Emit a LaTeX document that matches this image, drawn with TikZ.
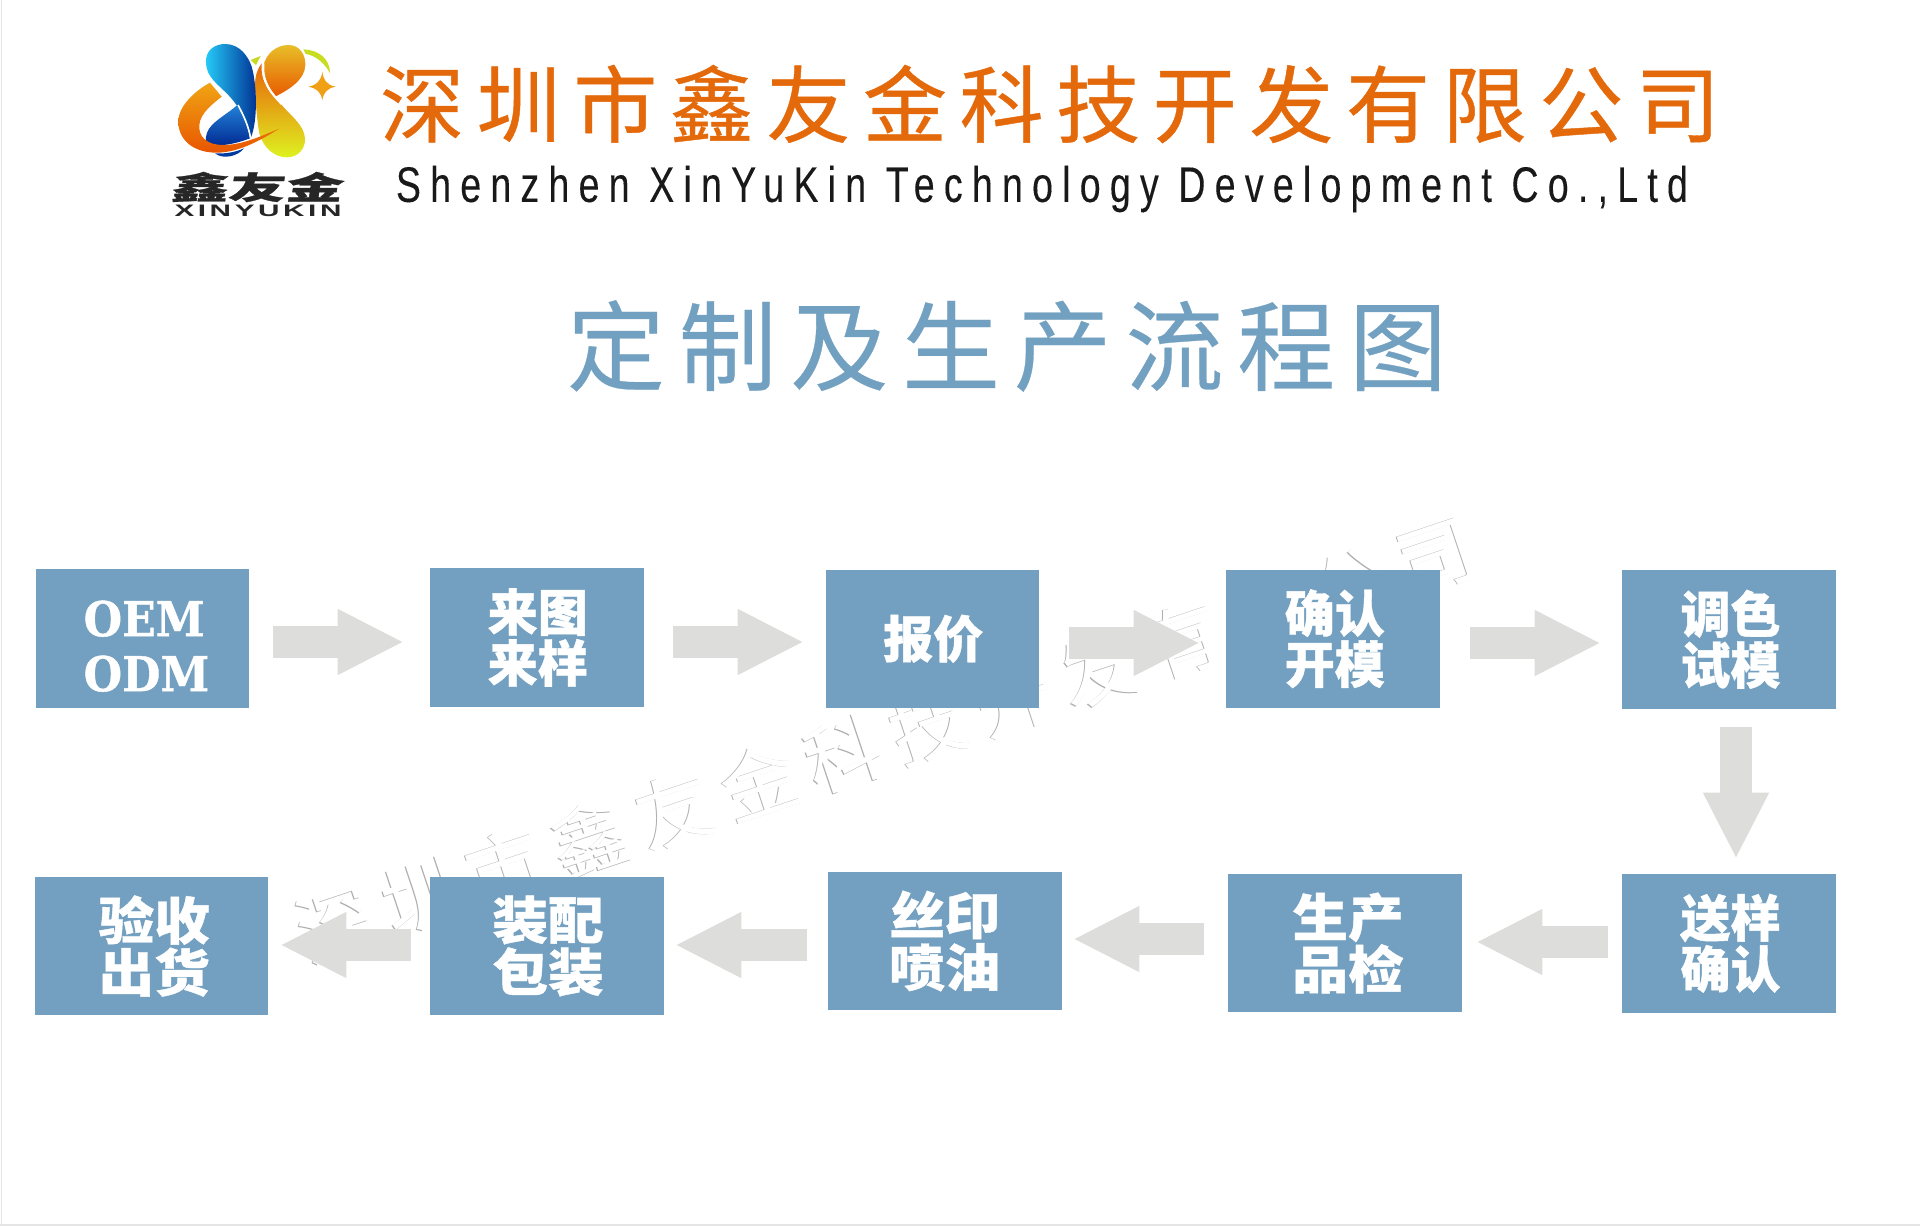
\documentclass[tikz,border=0pt]{standalone}
\usepackage{fontspec}
\usetikzlibrary{arrows.meta}
\newfontfamily\cjk{Noto Sans CJK SC}[BoldFeatures={FakeBold=0.8}]
\newfontfamily\cjkwide{Noto Sans CJK SC}[FakeStretch=1.09,BoldFeatures={FakeStretch=1.09,FakeBold=0.8}]
\newfontfamily\cjkspa{Noto Sans CJK SC}[LetterSpace=15,FakeBold=0.5]
\newfontfamily\cjkspb{Noto Sans CJK SC}[LetterSpace=14,FakeBold=0.3]
\newfontfamily\cjkspw{Noto Sans CJK SC}[LetterSpace=17.5]
\newfontfamily\subf{Liberation Sans}[FakeStretch=0.75,LetterSpace=18.5,FakeBold=0.15]
\newfontfamily\wordf{Liberation Sans}[LetterSpace=12]
\newfontfamily\slabface{DejaVu Serif Bold}[FakeStretch=0.92,FakeBold=0.8]
\definecolor{boxblue}{RGB}{115,160,192}
\definecolor{arrowgray}{RGB}{221,221,219}
\definecolor{brandorange}{RGB}{228,105,10}
\definecolor{titleblue}{RGB}{114,160,192}
\tikzset{
  x=0.5pt,y=-0.5pt,
  stepbox/.style={fill=boxblue,text=white,inner sep=0pt,align=center,font=\cjk\bfseries},
  rowa/.style={font=\cjk\bfseries\fontsize{25pt}{25.5pt}\selectfont},
  rowb/.style={font=\cjkwide\bfseries\fontsize{25.5pt}{26pt}\selectfont},
  rowo/.style={font=\slabface\fontsize{24pt}{27.5pt}\selectfont},
  blockarr/.style={arrowgray,line width=16pt,-{Triangle[length=33.2pt,width=30.5pt,fill=arrowgray]}},
  wmark/.style={rotate=18.5,font=\cjkspw\fontsize{38pt}{38pt}\selectfont},
}
\begin{document}
\begin{tikzpicture}
\lineskiplimit=-20pt\relax
\useasboundingbox (0,0) rectangle (1920,1226);
\fill[white] (0,0) rectangle (1920,1226);
\fill[black!10] (0.8,0) rectangle (2.3,1226);
\fill[black!10] (0,1224.3) rectangle (1920,1226);

% watermark: only the edges of its letters show
\node[wmark,text=black!32] (wm) at (885,740.5) {深圳市鑫友金科技开发有限公司};
\node[wmark,text=white] (wmcover) at (886.1,740.15) {深圳市鑫友金科技开发有限公司};

% logo
\begin{scope}[shift={(160,30)},scale=0.33333]
  \fill[color={rgb,255:red,200;green,215;blue,32}] (272,90) -- (302,78) -- (288,105) -- cycle;
  \fill[color={rgb,255:red,200;green,220;blue,32}] (430,58) .. controls (475,60) and (510,85) .. (510,130) .. controls (495,100) and (465,75) .. (437,72) -- cycle;
  \fill[color={rgb,255:red,240;green,160;blue,20}] (487,125) .. controls (490,150) and (500,165) .. (527,170) .. controls (500,175) and (490,190) .. (487,210) .. controls (484,190) and (472,175) .. (445,170) .. controls (472,165) and (484,150) .. (487,125) -- cycle;
  \shade[top color={rgb,255:red,232;green,190;blue,40},bottom color={rgb,255:red,232;green,90;blue,0}]
    (310,108) .. controls (318,70) and (350,45) .. (385,45) .. controls (420,45) and (437,75) .. (436,105) .. controls (435,150) and (385,180) .. (345,200) .. controls (325,170) and (310,140) .. (310,108) -- cycle;
  \shade[top color={rgb,255:red,232;green,100;blue,10},bottom color={rgb,255:red,222;green,242;blue,32}]
    (305,100) .. controls (283,130) and (284,160) .. (286,190) .. controls (288,240) and (294,290) .. (298,310) .. controls (310,355) and (345,382) .. (380,382) .. controls (415,382) and (437,355) .. (435,325) .. controls (432,285) and (395,260) .. (365,225) .. controls (335,190) and (300,160) .. (305,100) -- cycle;
  \draw[white,line width=1.1pt] (310,100) .. controls (305,160) and (335,190) .. (365,222);
  \shade[top color={rgb,255:red,35;green,130;blue,215},bottom color={rgb,255:red,0;green,40;blue,145}]
    (232,225) .. controls (205,250) and (165,270) .. (148,295) .. controls (135,315) and (135,335) .. (140,345) .. controls (190,350) and (230,340) .. (270,325) .. controls (265,290) and (245,250) .. (232,225) -- cycle;
  \fill[color={rgb,255:red,0;green,60;blue,160}] (165,370) .. controls (195,372) and (225,367) .. (252,355) .. controls (235,378) and (190,390) .. (165,370) -- cycle;
  \shade[shading angle=135,left color={rgb,255:red,37;green,205;blue,250},right color={rgb,255:red,0;green,45;blue,145}]
    (138,100) .. controls (135,60) and (165,42) .. (195,42) .. controls (240,42) and (265,80) .. (275,110) .. controls (290,160) and (295,270) .. (272,325) .. controls (265,280) and (240,230) .. (200,190) .. controls (170,160) and (140,140) .. (138,100) -- cycle;
  \draw[white,line width=0.8pt] (234,225) .. controls (250,255) and (265,285) .. (272,325);
  \shade[top color={rgb,255:red,240;green,165;blue,20},bottom color={rgb,255:red,232;green,85;blue,0}]
    (150,158) .. controls (110,180) and (55,225) .. (55,275) .. controls (55,330) and (100,368) .. (170,368) .. controls (240,368) and (310,325) .. (358,296) .. controls (310,315) and (250,345) .. (190,345) .. controls (140,345) and (115,320) .. (118,285) .. controls (120,250) and (160,220) .. (185,200) -- cycle;
\end{scope}
\node[transform shape,xscale=1.55,yscale=0.85,xslant=0.08,inner sep=0pt,text=black!85,font=\cjk\bfseries\fontsize{18.5pt}{18.5pt}\selectfont] (logocn) at (258,187) {鑫友金};
\node[transform shape,xscale=1.79,inner sep=0pt,text=black!85,font=\wordf\bfseries\fontsize{8.3pt}{8.3pt}\selectfont] (logoen) at (258,211) {XINYUKIN};

% headings
\node[inner sep=0pt,text=brandorange,font=\cjkspa\fontsize{42pt}{42pt}\selectfont] (company) at (1050,104) {深圳市鑫友金科技开发有限公司};
\node[inner sep=0pt,text=black!90,font=\subf\fontsize{25pt}{25pt}\selectfont] (companyen) at (1042,189) {Shenzhen XinYuKin Technology Development Co.,Ltd};
\node[inner sep=0pt,text=titleblue,font=\cjkspb\fontsize{49pt}{49pt}\selectfont] (title) at (1007,346) {定制及生产流程图};

% step boxes
\node[stepbox,rowo,minimum width=106.5pt,minimum height=69.5pt,align=left] (n1) at (142.5,638.5) {\rule{0pt}{25.5pt}\hspace*{4pt}OEM\\\hspace*{4pt}ODM};
\node[stepbox,rowa,minimum width=106.75pt,minimum height=69.5pt] (n2) at (536.75,637.5) {\hspace*{1pt}来图\\\hspace*{1pt}来样};
\node[stepbox,rowa,minimum width=106.75pt,minimum height=69.25pt] (n3) at (932.25,638.75) {\hspace*{1pt}报价};
\node[stepbox,rowa,minimum width=106.75pt,minimum height=69.25pt] (n4) at (1332.75,638.75) {\hspace*{2pt}确认\\\hspace*{2pt}开模};
\node[stepbox,rowa,minimum width=107pt,minimum height=69.75pt] (n5) at (1728.5,639.25) {\hspace*{2pt}调色\\\hspace*{2pt}试模};
\node[stepbox,rowa,minimum width=107pt,minimum height=69.25pt] (n6) at (1728.5,943.25) {\hspace*{2pt}送样\\\hspace*{2pt}确认};
\node[stepbox,rowb,minimum width=117pt,minimum height=69pt] (n7) at (1345,943) {\hspace*{3pt}生产\\\hspace*{3pt}品检};
\node[stepbox,rowb,minimum width=116.75pt,minimum height=69pt] (n8) at (944.75,941) {丝印\\喷油};
\node[stepbox,rowb,minimum width=117pt,minimum height=69pt] (n9) at (547,946) {\hspace*{1pt}装配\\\hspace*{1pt}包装};
\node[stepbox,rowb,minimum width=116.75pt,minimum height=69pt] (n10) at (151.25,946) {\hspace*{3pt}验收\\\hspace*{3pt}出货};

% connectors
\draw[blockarr,shorten <=12pt,shorten >=12.8pt] ([yshift=-1.75pt]n1.east) -- ([yshift=-2.25pt]n2.west);
\draw[blockarr,shorten <=14.75pt,shorten >=10.55pt] ([yshift=-2.25pt]n2.east) -- ([yshift=-1.625pt]n3.west);
\draw[blockarr,shorten <=15pt,shorten >=12.8pt] ([yshift=-2.125pt]n3.east) -- ([yshift=-2.125pt]n4.west);
\draw[blockarr,shorten <=15pt,shorten >=10.05pt] ([yshift=-2.125pt]n4.east) -- ([yshift=-1.875pt]n5.west);
\draw[blockarr,shorten <=9pt,shorten >=7.3pt] ([xshift=3.75pt]n5.south) -- ([xshift=3.75pt]n6.north);
\draw[blockarr,shorten <=6.75pt,shorten >=6.8pt] ([yshift=0.625pt]n6.west) -- ([yshift=0.5pt]n7.east);
\draw[blockarr,shorten <=12pt,shorten >=5.55pt] ([yshift=2pt]n7.west) -- ([yshift=1pt]n8.east);
\draw[blockarr,shorten <=10.5pt,shorten >=5.3pt] ([yshift=-2pt]n8.west) -- ([yshift=0.5pt]n9.east);
\draw[blockarr,shorten <=9.5pt,shorten >=5.8pt] ([yshift=0.5pt]n9.west) -- ([yshift=0.5pt]n10.east);
\end{tikzpicture}
\end{document}
